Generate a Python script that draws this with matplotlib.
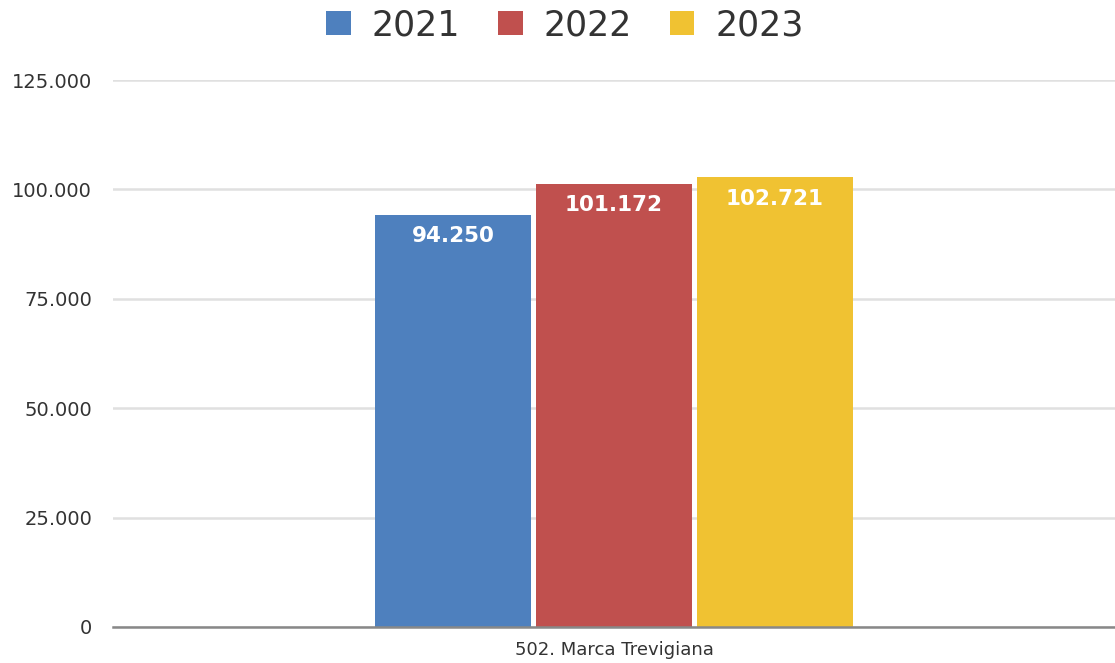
import matplotlib
matplotlib.use("Agg")
import matplotlib.pyplot as plt
from matplotlib.ticker import FuncFormatter
import numpy as np

categories = ["502. Marca Trevigiana"]
years = ["2021", "2022", "2023"]
values_2021 = [94250]
values_2022 = [101172]
values_2023 = [102721]
colors = ["#4E80BE", "#C0504E", "#F0C232"]
y_ticks = [0, 25000, 50000, 75000, 100000, 125000]

series = [values_2021, values_2022, values_2023]


def it_fmt(v):
    return f"{int(v):,}".replace(",", ".")


fig = plt.figure(figsize=(11.15, 6.63), dpi=100)
ax = fig.add_axes([113 / 1115, 36 / 663, 1 - 113 / 1115, (627 - 80) / 663])

x = np.arange(len(categories))
bar_w = 0.1557
step = 0.1605
offsets = [-step, 0, step]

for vals, off, col, yr in zip(series, offsets, colors, years):
    bars = ax.bar(x + off, vals, width=bar_w, color=col, label=yr, zorder=3)
    for b, v in zip(bars, vals):
        ax.annotate(it_fmt(v),
                    xy=(b.get_x() + b.get_width() / 2, v),
                    xytext=(0, -8), textcoords="offset points",
                    ha="center", va="top", color="white",
                    fontsize=15.5, fontweight="bold", family="DejaVu Sans",
                    zorder=4)

ax.set_xlim(-0.5, 0.5)
ax.set_ylim(0, 125000)
ax.set_yticks(y_ticks)
ax.yaxis.set_major_formatter(FuncFormatter(lambda v, p: it_fmt(v)))
ax.grid(axis="y", color="#e0e0e0", linewidth=1.8, zorder=0)
ax.set_xticks(x)
ax.set_xticklabels(categories, fontsize=13, family="DejaVu Sans")
for lbl in ax.get_yticklabels():
    lbl.set_fontsize(14)
    lbl.set_family("DejaVu Sans")
ax.tick_params(axis="both", length=0, colors="#333333")
ax.tick_params(axis="y", pad=15)
ax.tick_params(axis="x", pad=10)

for side in ["top", "right", "left"]:
    ax.spines[side].set_visible(False)
ax.spines["bottom"].set_color("#888888")
ax.spines["bottom"].set_linewidth(1.8)
ax.spines["bottom"].set_zorder(5)

leg = fig.legend(loc="upper center", bbox_to_anchor=(565 / 1115, 1.035), ncol=3,
                 frameon=False, prop={"family": "DejaVu Sans", "size": 25},
                 handlelength=0.7, handleheight=0.7, handletextpad=0.6,
                 columnspacing=1.1)
for t in leg.get_texts():
    t.set_color("#333333")

fig.savefig("out.png", dpi=100, facecolor="white")
